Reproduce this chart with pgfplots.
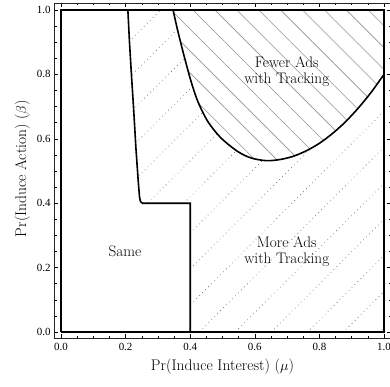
\documentclass[border=0pt]{standalone}
\usepackage{pgfplots}
\pgfplotsset{compat=1.18}
\usepackage{fontspec}
\newfontfamily\tickfont{Liberation Serif}
\usetikzlibrary{patterns.meta}
\tikzdeclarepattern{
  name=dotlines,
  type=uncolored,
  bounding box={(-1bp,-1bp) and (1bp,1bp)},
  tile size={(4.2bp,25.5bp)},
  tile transformation={rotate=45},
  code={\fill (0,0) circle (0.6bp);}
}
\begin{document}
\begin{tikzpicture}
\begin{axis}[
  scale only axis, width=337bp, height=335bp,
  xmin=-0.0217, xmax=1.0217, ymin=-0.0186, ymax=1.0217,
  xtick={0,0.2,0.4,0.6,0.8,1.0}, ytick={0,0.2,0.4,0.6,0.8,1.0},
  minor tick num=3,
  major tick length=4bp, minor tick length=2.5bp,
  tick style={black, line width=0.5bp},
  axis line style={black!85, line width=0.7bp},
  tick align=inside,
  /pgf/number format/.cd, fixed, fixed zerofill, precision=1, assume math mode=true,
  /pgfplots/.cd,
  tick label style={font=\tickfont\fontsize{11}{12}\selectfont},
  xticklabel style={yshift=-1.5bp},
  xlabel={Pr(Induce Interest) ($\mu$)},
  ylabel={Pr(Induce Action) ($\beta$)},
  label style={font=\fontsize{15.5}{17}\selectfont},
  every axis x label/.append style={yshift=-2bp},
  every axis y label/.append style={xshift=2bp},
]
% More Ads region (whole box, dotted lines)
\addplot[draw=none, pattern=dotlines, pattern color=gray!90] coordinates {(0,0) (1,0) (1,1) (0,1) (0,0)};
% Same region
\addplot[draw=none, fill=white] coordinates {(0,0) (0.4,0) (0.4,0.4) (0.252,0.4) (0.246,0.405) (0.243,0.42) (0.239,0.47) (0.232,0.57) (0.225,0.69) (0.218,0.8) (0.212,0.9) (0.207,1.0) (0,1) (0,0)};
% Fewer Ads region
\addplot[draw=none, fill=white] coordinates {(0.347,1.0) (0.362,0.933) (0.383,0.850) (0.403,0.777) (0.424,0.715) (0.455,0.653) (0.496,0.602) (0.548,0.560) (0.590,0.540) (0.637,0.532) (0.68,0.536) (0.72,0.546) (0.76,0.563) (0.80,0.586) (0.84,0.616) (0.88,0.652) (0.92,0.695) (0.96,0.744) (1.0,0.800) (1,1) (0.347,1.0)};
\addplot[draw=none, pattern={Lines[angle=-45,distance=15.5bp,line width=0.6bp]}, pattern color=gray!85] coordinates {(0.347,1.0) (0.362,0.933) (0.383,0.850) (0.403,0.777) (0.424,0.715) (0.455,0.653) (0.496,0.602) (0.548,0.560) (0.590,0.540) (0.637,0.532) (0.68,0.536) (0.72,0.546) (0.76,0.563) (0.80,0.586) (0.84,0.616) (0.88,0.652) (0.92,0.695) (0.96,0.744) (1.0,0.800) (1,1) (0.347,1.0)};
% Boundaries
\addplot[black, line width=1.6bp, smooth, tension=0.5] coordinates {(0.347,1.0) (0.362,0.933) (0.383,0.850) (0.403,0.777) (0.424,0.715) (0.455,0.653) (0.496,0.602) (0.548,0.560) (0.590,0.540) (0.637,0.532) (0.68,0.536) (0.72,0.546) (0.76,0.563) (0.80,0.586) (0.84,0.616) (0.88,0.652) (0.92,0.695) (0.96,0.744) (1.0,0.800)};
\addplot[black, line width=1.6bp] coordinates {(0.4,0) (0.4,0.4) (0.252,0.4) (0.246,0.405) (0.243,0.42) (0.239,0.47) (0.232,0.57) (0.225,0.69) (0.218,0.8) (0.212,0.9) (0.207,1.0)};
\addplot[black, line width=1.6bp] coordinates {(0,0) (1,0) (1,1) (0,1) (0,0)};
\node[align=center, font=\fontsize{15.3}{16}\selectfont] at (axis cs:0.699,0.807) {Fewer Ads\\with Tracking};
\node[align=center, font=\fontsize{15.3}{16}\selectfont] at (axis cs:0.699,0.249) {More Ads\\with Tracking};
\node[font=\fontsize{15.3}{16}\selectfont] at (axis cs:0.198,0.252) {Same};
\end{axis}
\pgfresetboundingbox
\path[use as bounding box] ([shift={(-54bp,-49bp)}]current axis.south west) rectangle ([shift={(336bp,338bp)}]current axis.south west);
\end{tikzpicture}
\end{document}
